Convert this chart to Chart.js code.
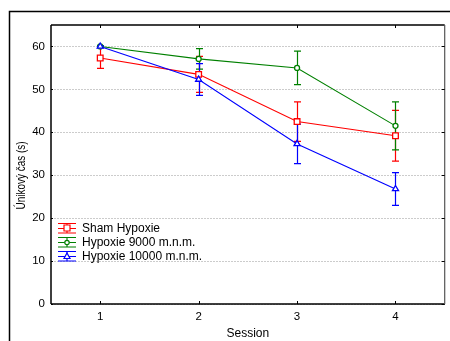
<!DOCTYPE html>
<html>
<head>
<meta charset="utf-8">
<script src="https://cdn.jsdelivr.net/npm/chart.js@4.4.1/dist/chart.umd.min.js"></script>
<style>
html,body{margin:0;padding:0;background:#fff;}
#wrap{width:450px;height:341px;position:relative;}
</style>
</head>
<body>
<div id="wrap"><canvas id="c" width="450" height="341"></canvas></div>
<script>
const sessions = ['1', '2', '3', '4'];
const seriesNames = ['Sham Hypoxie', 'Hypoxie 9000 m.n.m.', 'Hypoxie 10000 m.n.m.'];
const shamValues = [57.3, 53.5, 42.5, 39.2];
const shamErrors = [2.4, 4.2, 4.6, 5.9];
const h9000Values = [60.0, 57.1, 55.0, 41.5];
const h9000Errors = [0.2, 2.4, 3.9, 5.6];
const h10000Values = [60.0, 52.3, 37.3, 26.8];
const h10000Errors = [0.2, 3.7, 4.6, 3.8];
const yTicks = [0, 10, 20, 30, 40, 50, 60];
const yTitle = 'Únikový čas (s)';
const xTitle = 'Session';

const colors = ['#ff0000', '#008000', '#0000ff'];
const errorsBySeries = [shamErrors, h9000Errors, h10000Errors];
const markerStyles = ['rect', 'circle', 'triangle'];
const markerSizes = [4, 2.5, 3.5];

const FONT = '"Liberation Sans", Arial, sans-serif';

const decorPlugin = {
  id: 'decor',
  beforeDraw(chart) {
    const ctx = chart.ctx;
    ctx.save();
    ctx.fillStyle = '#fff';
    ctx.fillRect(0, 0, chart.width, chart.height);
    ctx.strokeStyle = '#000';
    ctx.lineWidth = 1.5;
    ctx.strokeRect(9.5, 11.5, 600, 600);
    ctx.restore();
  },
  beforeDatasetsDraw(chart) {
    const ctx = chart.ctx;
    const xs = chart.scales.x, ys = chart.scales.y;
    ctx.save();
    chart.data.datasets.forEach((ds, di) => {
      const errs = errorsBySeries[di];
      ctx.strokeStyle = colors[di];
      ctx.lineWidth = 1.2;
      ds.data.forEach((v, i) => {
        const x = Math.round(xs.getPixelForValue(i)) + 0.5;
        const yt = ys.getPixelForValue(v + errs[i]);
        const yb = ys.getPixelForValue(v - errs[i]);
        ctx.beginPath();
        ctx.moveTo(x, yt); ctx.lineTo(x, yb);
        ctx.moveTo(x - 3.5, yt); ctx.lineTo(x + 3.5, yt);
        ctx.moveTo(x - 3.5, yb); ctx.lineTo(x + 3.5, yb);
        ctx.stroke();
      });
    });
    ctx.restore();
  },
  afterDraw(chart) {
    const ctx = chart.ctx;
    const a = chart.chartArea;
    const xs = chart.scales.x, ys = chart.scales.y;
    ctx.save();
    // plot frame
    ctx.strokeStyle = '#000';
    ctx.lineWidth = 1.5;
    ctx.beginPath();
    ctx.moveTo(a.left, a.top); ctx.lineTo(a.right, a.top);
    ctx.moveTo(a.left, a.top); ctx.lineTo(a.left, a.bottom);
    ctx.moveTo(a.left, a.bottom); ctx.lineTo(a.right, a.bottom);
    ctx.stroke();
    ctx.strokeStyle = '#555';
    ctx.lineWidth = 1.2;
    ctx.beginPath();
    ctx.moveTo(a.right, a.top); ctx.lineTo(a.right, a.bottom);
    ctx.stroke();
    // inward tick marks
    ctx.strokeStyle = '#000';
    ctx.lineWidth = 1;
    ctx.beginPath();
    sessions.forEach((s, i) => {
      const x = Math.round(xs.getPixelForValue(i)) + 0.5;
      ctx.moveTo(x, a.top); ctx.lineTo(x, a.top + 3);
      ctx.moveTo(x, a.bottom); ctx.lineTo(x, a.bottom - 3);
    });
    yTicks.forEach(t => {
      const y = Math.round(ys.getPixelForValue(t)) + 0.5;
      ctx.moveTo(a.right, y); ctx.lineTo(a.right - 3, y);
      ctx.moveTo(a.left, y); ctx.lineTo(a.left + 2, y);
    });
    ctx.stroke();
    // y axis title
    ctx.save();
    ctx.fillStyle = '#000';
    ctx.font = '12px ' + FONT;
    ctx.textAlign = 'center';
    ctx.textBaseline = 'middle';
    ctx.translate(22, (a.top + a.bottom) / 2 + 11);
    ctx.rotate(-Math.PI / 2);
    const w = ctx.measureText(yTitle).width;
    ctx.scale(Math.min(1, 68 / w), 1);
    ctx.fillText(yTitle, 0, 0);
    ctx.restore();
    // legend
    ctx.font = '12px ' + FONT;
    ctx.textBaseline = 'middle';
    ctx.textAlign = 'left';
    seriesNames.forEach((name, i) => {
      const cy = 228 + i * 14;
      const c = colors[i];
      ctx.strokeStyle = c;
      ctx.lineWidth = 1.1;
      ctx.beginPath();
      ctx.moveTo(58, cy - 4.5); ctx.lineTo(76, cy - 4.5);
      ctx.moveTo(58, cy + 0.5); ctx.lineTo(76, cy + 0.5);
      ctx.moveTo(58, cy + 5); ctx.lineTo(76, cy + 5);
      ctx.moveTo(67, cy - 4.5); ctx.lineTo(67, cy + 5);
      ctx.stroke();
      ctx.fillStyle = '#fff';
      ctx.lineWidth = 1.2;
      ctx.beginPath();
      if (markerStyles[i] === 'rect') {
        ctx.rect(64, cy - 3, 6, 6);
      } else if (markerStyles[i] === 'circle') {
        ctx.arc(67, cy + 0.5, 2.2, 0, Math.PI * 2);
      } else {
        ctx.moveTo(67, cy - 3); ctx.lineTo(70, cy + 2.5); ctx.lineTo(64, cy + 2.5); ctx.closePath();
      }
      ctx.fill(); ctx.stroke();
      ctx.fillStyle = '#000';
      ctx.fillText(name, 82, cy + 0.5);
    });
    ctx.restore();
  }
};

const datasets = [shamValues, h9000Values, h10000Values].map((vals, i) => ({
  label: seriesNames[i],
  data: vals,
  borderColor: colors[i],
  backgroundColor: '#ffffff',
  borderWidth: 1.1,
  pointStyle: markerStyles[i],
  pointRadius: markerSizes[i],
  pointBorderWidth: 1.3,
  pointBorderColor: colors[i],
  pointBackgroundColor: '#ffffff',
  tension: 0,
  order: 2 - i
}));

new Chart(document.getElementById('c'), {
  type: 'line',
  data: { labels: sessions, datasets },
  plugins: [decorPlugin],
  options: {
    responsive: false,
    animation: false,
    devicePixelRatio: 1,
    layout: { padding: { top: 25, right: 2, left: 0, bottom: 0 } },
    plugins: { legend: { display: false }, tooltip: { enabled: false } },
    scales: {
      x: {
        type: 'category',
        offset: true,
        grid: { display: false, drawTicks: false },
        border: { display: false },
        ticks: { color: '#000', font: { family: FONT, size: 11.5 }, padding: 6 },
        title: { display: true, text: xTitle, color: '#000', font: { family: FONT, size: 12 }, padding: { top: 5, bottom: 0 } },
        afterFit(s) { s.height = 37; }
      },
      y: {
        min: 0, max: 65,
        afterBuildTicks(s) { s.ticks = yTicks.map(v => ({ value: v })); },
        grid: { color: '#cccccc', lineWidth: 1, drawTicks: false },
        border: { display: false, dash: [2, 1] },
        ticks: { color: '#000', font: { family: FONT, size: 11.5 }, padding: 6 },
        afterFit(s) { s.width = 51; }
      }
    }
  }
});
</script>
</body>
</html>
